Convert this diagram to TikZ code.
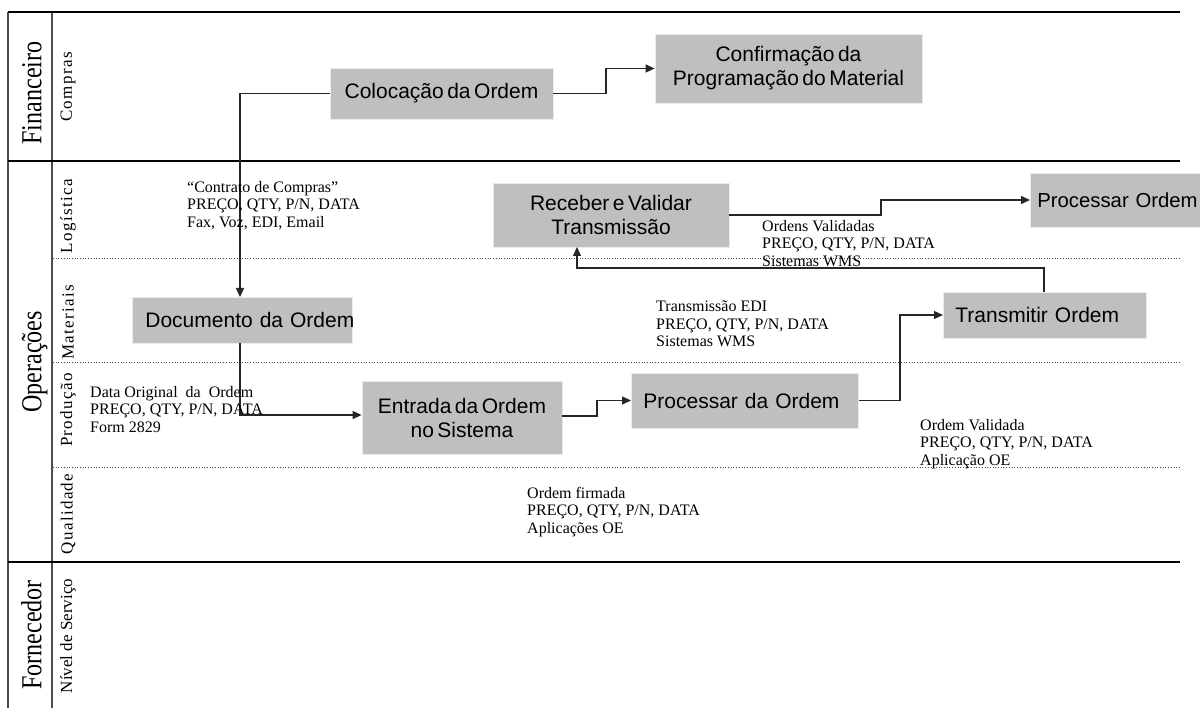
\documentclass[tikz,border=0pt]{standalone}
\usepackage{fontspec}
\setmainfont{Liberation Serif}
\setsansfont{Liberation Sans}[WordSpace=0.6]
\usetikzlibrary{arrows.meta}
\begin{document}
\begin{tikzpicture}[x=1pt,y=-1pt,
  frame/.style={line width=2pt, black},
  sideline/.style={line width=1.2pt, black!70},
  lanesep/.style={line width=0.7pt, dotted, black!70},
  task/.style={draw=black!8, fill=black!25, line width=0.8pt,
    font=\sffamily\fontsize{21}{24}\selectfont, align=center, inner sep=0pt},
  tasklft/.style={task, align=left, anchor=west, minimum height=#1},
  flow/.style={line width=1.3pt, black!85, -{Triangle[length=9pt,width=8pt]}},
  note/.style={font=\fontsize{16}{17.5}\selectfont, align=left, anchor=north west, inner sep=0pt},
  group/.style={rotate=90, anchor=base, inner sep=0pt,
    font=\fontsize{29}{30}\selectfont},
  lane/.style={rotate=90, inner sep=0pt,
    font=\fontsize{17}{18}\selectfont\addfontfeatures{LetterSpace=8}},
]
\useasboundingbox (0,0) rectangle (1200,708);

% swimlane frame
\draw[sideline] (8,12) -- (8,708);
\draw[sideline] (52,12) -- (52,708);
\draw[frame] (8,12) -- (1180,12);
\draw[frame] (8,161) -- (1180,161);
\draw[frame] (8,562) -- (1180,562);
\draw[lanesep] (53,258) -- (1180,258);
\draw[lanesep] (53,362) -- (1180,362);
\draw[lanesep] (53,467) -- (1180,467);

% group and lane titles
\node[group] (gfin) at (41.5,93) {\scalebox{0.83}[1]{Financeiro}};
\node[group] (gops) at (41.5,362) {\scalebox{0.83}[1]{Operações}};
\node[group] (gfor) at (41.5,635) {\scalebox{0.83}[1]{Fornecedor}};
\node[lane] (lcom) at (68,87) {Compras};
\node[lane] (llog) at (68,216) {Logística};
\node[lane] (lmat) at (68,322) {Materiais};
\node[lane] (lpro) at (68,410) {Produção};
\node[lane] (lqua) at (68,514) {Qualidade};
\node[lane, font=\fontsize{17}{18}\selectfont] (lniv) at (68,636) {Nível de Serviço};

% process steps
\node[task, minimum width=223pt, minimum height=51pt] (col) at (441.5,93.5) {Colocação da Ordem};
\node[task, minimum width=267pt, minimum height=69pt] (conf) at (788.5,68.5) {Confirmação da\\Programação do Material};
\node[tasklft=46pt, inner xsep=13pt, text width=194pt] (doc) at (132,320) {\mbox{Documento da Ordem}};
\node[task, minimum width=200pt, minimum height=73pt] (ent) at (462,417.5) {Entrada da Ordem\\no Sistema};
\node[tasklft=55pt, inner xsep=12pt, text width=203pt] (proc) at (631,400.5) {\mbox{Processar da Ordem}};
\node[tasklft=46pt, inner xsep=12pt, text width=179pt] (trans) at (943,315) {\mbox{Transmitir Ordem}};
\node[task, minimum width=236pt, minimum height=64pt] (rec) at (611,215) {Receber e Validar\\Transmissão};
\node[tasklft=54pt, inner xsep=7pt, text width=170pt, font=\sffamily\fontsize{20.3}{24}\selectfont] (pord) at (1030,200) {\mbox{Processar Ordem}};

% connectors
\coordinate (docin) at (240,297);
\coordinate (docout) at (240,343);
\coordinate (transout) at (1044,292);
\coordinate (recin) at (577,247);
\draw[flow] (col.east) -- (606,93.5) |- (conf.west);
\draw[flow] (col.west) -| (docin);
\draw[flow] (docout) |- (ent.west |- 0,415);
\draw[flow] (ent.east |- 0,416) -- (597,416) |- (proc.west);
\draw[flow] (proc.east) -- (900,400.5) |- (trans.west);
\draw[flow] (transout) |- (577,268) -- (recin);
\draw[flow] (rec.east) -- (881,215) |- (pord.west);

% data annotations
\node[note] (n1) at (187,181) {“Contrato de Compras”\\PREÇO, QTY, P/N, DATA\\Fax, Voz, EDI, Email};
\node[note] (n2) at (762,220) {Ordens Validadas\\PREÇO, QTY, P/N, DATA\\Sistemas WMS};
\node[note] (n3) at (656,301) {Transmissão EDI\\PREÇO, QTY, P/N, DATA\\Sistemas WMS};
\node[note] (n4) at (90,386) {Data Original\ \ da\ \ Ordem\\PREÇO, QTY, P/N, DATA\\Form 2829};
\node[note] (n5) at (920,419) {Ordem Validada\\PREÇO, QTY, P/N, DATA\\Aplicação OE};
\node[note] (n6) at (527,487) {Ordem firmada\\PREÇO, QTY, P/N, DATA\\Aplicações OE};
\end{tikzpicture}
\end{document}
